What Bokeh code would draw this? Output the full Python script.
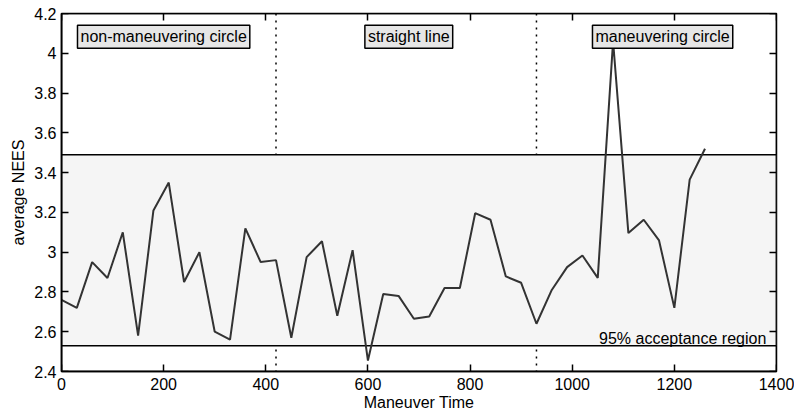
from bokeh.plotting import figure
from bokeh.models import (Range1d, LinearAxis, FixedTicker, Span, BoxAnnotation,
                          Label, CustomLabelingPolicy)
from bokeh.embed import file_html
from bokeh.resources import INLINE

# ---- data ----
maneuver_time = [0, 30, 60, 90, 120, 150, 180, 210, 240, 270, 300, 330, 360, 390,
                 420, 450, 480, 510, 540, 570, 600, 630, 660, 690, 720, 750, 780,
                 810, 840, 870, 900, 930, 960, 990, 1020, 1050, 1080, 1110, 1140,
                 1170, 1200, 1230, 1260]
average_nees = [2.76, 2.72, 2.95, 2.87, 3.10, 2.58, 3.21, 3.35, 2.85, 3.00, 2.60,
                2.56, 3.12, 2.95, 2.96, 2.57, 2.975, 3.055, 2.68, 3.01, 2.455,
                2.79, 2.78, 2.665, 2.677, 2.82, 2.82, 3.196, 3.163, 2.878, 2.846,
                2.64, 2.81, 2.925, 2.983, 2.871, 4.06, 3.096, 3.163, 3.059, 2.72,
                3.365, 3.52]
acceptance_lower = 2.53
acceptance_upper = 3.49
segment_boundaries = [420, 930]
segment_names = ["non-maneuvering circle", "straight line", "maneuvering circle"]
segment_label_x = [200, 680, 1177]
segment_label_y = 4.083
region_label = "95% acceptance region"
x_ticks = [0, 200, 400, 600, 800, 1000, 1200, 1400]
x_tick_labels = ["0", "200", "400", "600", "800", "1000", "1200", "1400"]
y_ticks = [2.4, 2.6, 2.8, 3, 3.2, 3.4, 3.6, 3.8, 4, 4.2]
y_tick_labels = ["2.4", "2.6", "2.8", "3", "3.2", "3.4", "3.6", "3.8", "4", "4.2"]
x_min, x_max = 0, 1400
y_min, y_max = 2.4, 4.2

FONT = "Liberation Sans"

p = figure(width=794, height=414, output_backend="svg", toolbar_location=None,
           x_range=Range1d(x_min, x_max), y_range=Range1d(y_min, y_max),
           min_border_left=61, min_border_right=18, min_border_top=13,
           min_border_bottom=43, x_axis_label="Maneuver Time",
           y_axis_label="average NEES")
p.background_fill_color = "white"
p.border_fill_color = "white"
p.grid.visible = False
p.outline_line_color = "black"
p.outline_line_width = 1.5

hide_labels = CustomLabelingPolicy(code="""
    for (const i of Array.from(indices)) indices.unset(i)
    return indices
""")


def style_axis(ax, labels=True):
    ax.axis_line_color = "black"
    ax.axis_line_width = 1.5
    ax.major_tick_line_color = "black"
    ax.major_tick_line_width = 1.5
    ax.minor_tick_line_color = None
    if labels:
        # labelled axes: their ticks are drawn by the pinned tick-only axes
        ax.major_tick_in = 0
        ax.major_tick_out = 0
        ax.major_label_text_font = FONT
        ax.major_label_text_font_size = "16px"
        ax.major_label_text_color = "black"
        ax.axis_label_text_font = FONT
        ax.axis_label_text_font_size = "16px"
        ax.axis_label_text_font_style = "normal"
        ax.axis_label_text_color = "black"
    else:
        ax.major_tick_in = 7
        ax.major_tick_out = 0
        ax.major_label_policy = hide_labels
        ax.major_label_text_font_size = "1px"
        ax.major_label_standoff = 0


xax = p.xaxis[0]
yax = p.yaxis[0]
xax.ticker = FixedTicker(ticks=x_ticks)
yax.ticker = FixedTicker(ticks=y_ticks)
xax.major_label_overrides = dict(zip(x_ticks, x_tick_labels))
yax.major_label_overrides = dict(zip(y_ticks, y_tick_labels))
style_axis(xax)
style_axis(yax)
xax.major_label_standoff = 6
xax.axis_label_standoff = 1
yax.major_label_standoff = 5
yax.axis_label_standoff = 4

# tick-only axes pinned to the frame edges, ticks pointing inward
for side, ticks, loc in (("above", x_ticks, y_max), ("right", y_ticks, x_max),
                         ("below", x_ticks, y_min), ("left", y_ticks, x_min)):
    tick_axis = LinearAxis(ticker=FixedTicker(ticks=ticks), fixed_location=loc)
    style_axis(tick_axis, labels=False)
    p.add_layout(tick_axis, side)

# segment boundaries (dotted), covered by the acceptance region
for b in segment_boundaries:
    p.add_layout(Span(location=b, dimension="height", line_color="black",
                      line_width=1.5, line_dash="2 5", level="underlay"))

p.add_layout(BoxAnnotation(bottom=acceptance_lower, top=acceptance_upper,
                           fill_color="#f5f5f5", fill_alpha=1.0,
                           line_color="black", line_alpha=1.0, line_width=1.5,
                           level="underlay"))

p.line(maneuver_time, average_nees, line_color="#333333", line_width=2)

for name, lx in zip(segment_names, segment_label_x):
    p.add_layout(Label(x=lx, y=segment_label_y, text=name,
                       text_align="center", text_baseline="middle",
                       text_font=FONT, text_font_size="16px", text_color="black",
                       background_fill_color="#e6e6e6", background_fill_alpha=1.0,
                       border_line_color="black", border_line_width=1.5,
                       padding=3))

p.add_layout(Label(x=1380, y=2.565, text=region_label, text_align="right",
                   text_baseline="alphabetic", text_font=FONT,
                   text_font_size="16px", text_color="black"))

open("out.html", "w").write(file_html(p, INLINE))
